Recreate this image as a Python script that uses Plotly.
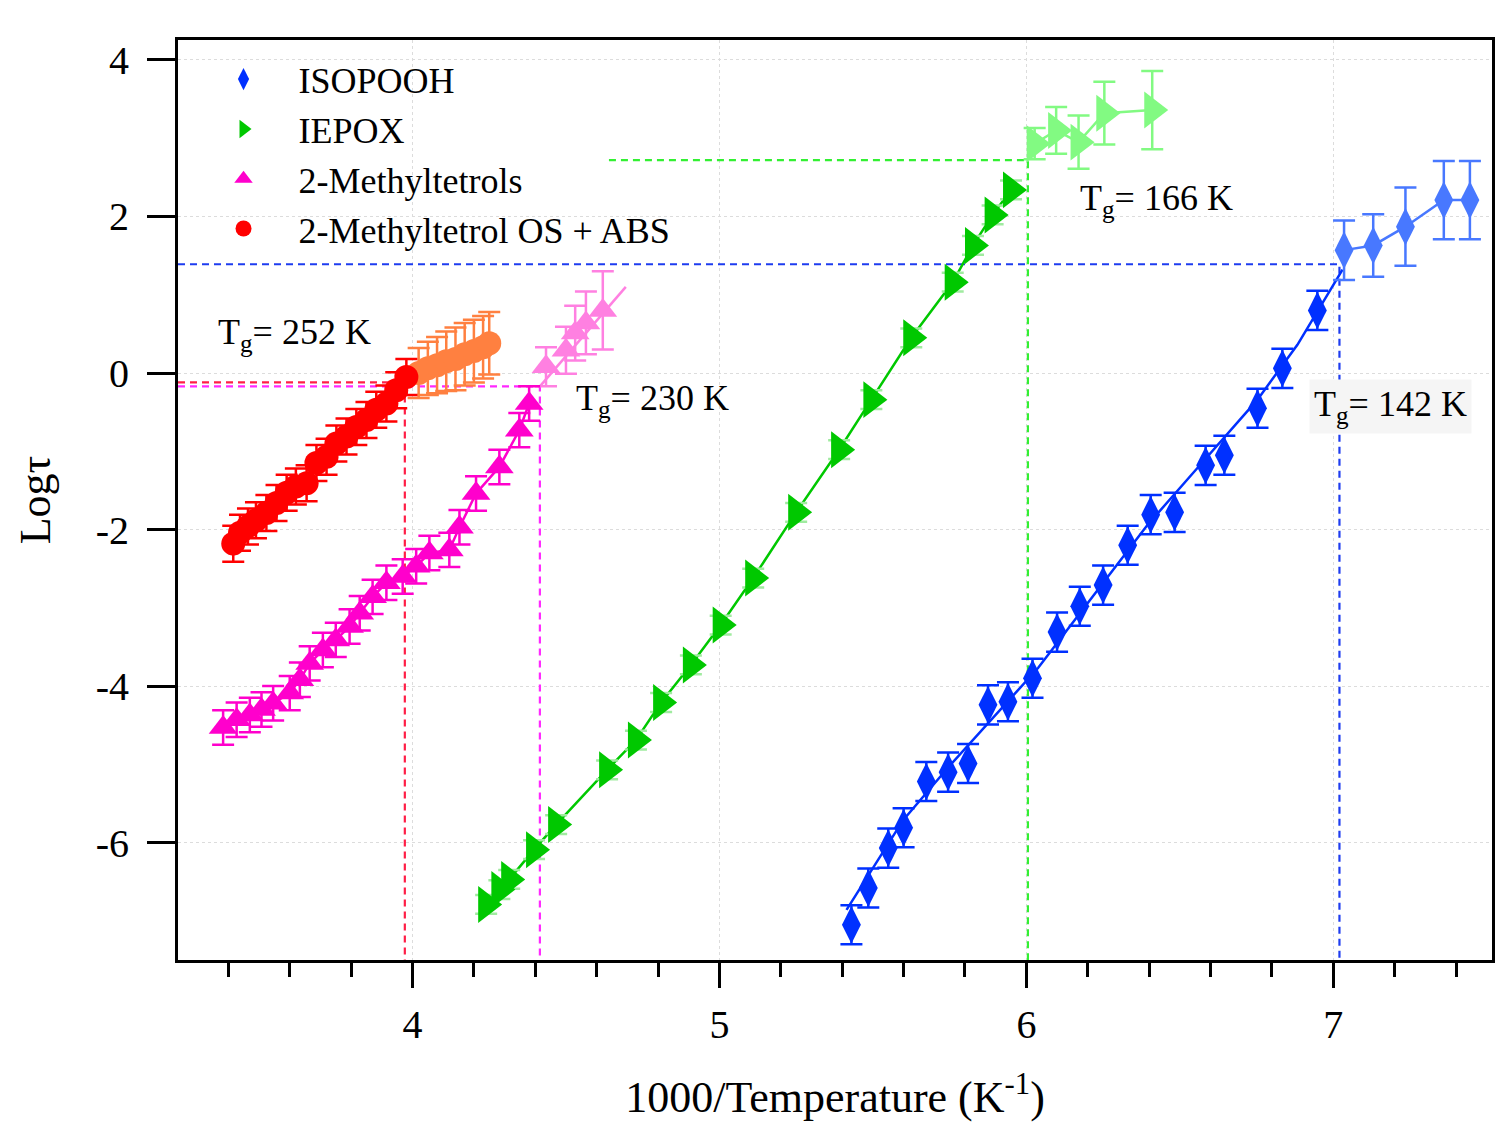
import plotly.graph_objects as go

# ---------------- data ----------------
# ISOPOOH (dark blue, below Tg) and light blue (above Tg)
iso_x = [5.43, 5.485, 5.55, 5.60, 5.674, 5.745, 5.81, 5.875, 5.94, 6.02, 6.10, 6.174,
         6.25, 6.33, 6.405, 6.483, 6.584, 6.645, 6.753, 6.834, 6.948]
iso_y = [-7.05, -6.58, -6.07, -5.81, -5.22, -5.10, -4.99, -4.24, -4.20, -3.90, -3.31, -2.98,
         -2.71, -2.20, -1.81, -1.78, -1.18, -1.05, -0.45, 0.06, 0.80]
iso_err = [0.25] * len(iso_x)
iso_fit_x = [5.414, 5.599, 5.745, 5.908, 6.038, 6.233, 6.395, 6.558, 6.753, 6.883, 7.03]
iso_fit_y = [-6.86, -5.71, -5.04, -4.33, -3.77, -2.77, -1.94, -1.21, -0.34, 0.36, 1.32]
iso_hi_x = [7.035, 7.13, 7.235, 7.36, 7.445]
iso_hi_y = [1.57, 1.63, 1.87, 2.21, 2.21]
iso_hi_err = [0.38, 0.40, 0.50, 0.50, 0.50]

# IEPOX
iep_x = [4.24, 4.283, 4.315, 4.396, 4.468, 4.634, 4.728, 4.81, 4.907, 5.004, 5.11, 5.25,
         5.39, 5.495, 5.625, 5.76, 5.826, 5.89, 5.95]
iep_y = [-6.79, -6.60, -6.47, -6.09, -5.77, -5.07, -4.69, -4.21, -3.73, -3.22, -2.62, -1.78,
         -0.98, -0.34, 0.45, 1.16, 1.63, 2.02, 2.34]
iep_err = [0.12] * len(iep_x)
iep_hi_x = [6.027, 6.097, 6.17, 6.254, 6.41]
iep_hi_y = [2.93, 3.10, 2.95, 3.32, 3.36]
iep_hi_err = [0.2, 0.3, 0.34, 0.4, 0.5]

# 2-Methyltetrols
mt_x = [3.383, 3.427, 3.47, 3.508, 3.546, 3.60, 3.633, 3.665, 3.708, 3.75, 3.795, 3.828,
        3.87, 3.915, 3.968, 4.012, 4.055, 4.12, 4.153, 4.207, 4.283, 4.348, 4.38]
mt_y = [-4.53, -4.43, -4.37, -4.30, -4.22, -4.09, -3.92, -3.71, -3.54, -3.41, -3.24, -3.07,
        -2.86, -2.68, -2.60, -2.47, -2.30, -2.26, -1.97, -1.54, -1.20, -0.73, -0.39]
mt_err = [0.22] * len(mt_x)
mt_hi_x = [4.435, 4.50, 4.53, 4.565, 4.62]
mt_hi_y = [0.08, 0.29, 0.51, 0.64, 0.80]
mt_hi_err = [0.25, 0.3, 0.35, 0.4, 0.5]
mt_fit_x = [4.415, 4.695]
mt_fit_y = [-0.17, 1.10]

# 2-Methyltetrol OS + ABS
os_x = [3.416, 3.438, 3.464, 3.49, 3.524, 3.557, 3.59, 3.62, 3.655, 3.687, 3.72, 3.752,
        3.785, 3.817, 3.85, 3.882, 3.915, 3.947, 3.98]
os_y = [-2.18, -2.04, -1.96, -1.88, -1.79, -1.66, -1.53, -1.45, -1.41, -1.15, -1.07, -0.90,
        -0.81, -0.69, -0.60, -0.47, -0.39, -0.22, -0.05]
os_err = [0.23] * len(os_x)
os_hi_x = [4.02, 4.05, 4.08, 4.11, 4.14, 4.17, 4.20, 4.23, 4.25]
os_hi_y = [0.00, 0.06, 0.10, 0.15, 0.18, 0.24, 0.28, 0.33, 0.38]
os_hi_err = [0.32, 0.34, 0.36, 0.38, 0.4, 0.4, 0.4, 0.4, 0.4]

# Glass transition guide points (x = 1000/Tg, y = log tau)
X_LEFT, Y_BOTTOM = 3.236, -7.5
tg_blue = (7.02, 1.39)
tg_green = (6.005, 2.72)
tg_green_hstart = 4.64
tg_red = (3.975, -0.12)
tg_mag = (4.415, -0.17)

tg_labels = ["T<sub>g</sub>= 252 K", "T<sub>g</sub>= 230 K", "T<sub>g</sub>= 166 K", "T<sub>g</sub>= 142 K"]
tg_label_x = [3.35, 4.517, 6.158, 6.922]
tg_label_y = [0.49, -0.35, 2.21, -0.43]

y_tickvals = [-6, -4, -2, 0, 2, 4]
y_ticktext = ["-6", "-4", "-2", "0", "2", "4"]
x_tickvals = [4, 5, 6, 7]

# ---------------- colours ----------------
BLUE, BLUE_L = "rgb(0,48,255)", "rgb(72,120,255)"
GREEN, GREEN_L = "rgb(0,200,0)", "rgb(130,250,130)"
MAG, MAG_L = "rgb(255,0,204)", "rgb(255,128,225)"
RED, ORANGE = "rgb(255,0,0)", "rgb(255,128,64)"

FONT = "Liberation Serif, Times New Roman, serif"

fig = go.Figure()

def eb(vals, color, w=11, th=2.5):
    return dict(type="data", array=vals, visible=True, color=color, thickness=th, width=w)

def line(xs, ys, color, dash=None, width=2.5):
    fig.add_trace(go.Scatter(x=xs, y=ys, mode="lines", showlegend=False, hoverinfo="skip",
                             line=dict(color=color, width=width, dash=dash)))

# dashed guide lines
DASH = "7px,5px"
line([X_LEFT, tg_blue[0], tg_blue[0]], [tg_blue[1], tg_blue[1], Y_BOTTOM], "rgb(30,60,240)", DASH, 2.2)
line([tg_green_hstart, tg_green[0], tg_green[0]], [tg_green[1], tg_green[1], Y_BOTTOM], "rgb(50,240,50)", DASH, 2.2)
line([X_LEFT, tg_red[0], tg_red[0]], [tg_red[1], tg_red[1], Y_BOTTOM], "rgb(255,30,70)", DASH, 2.2)
line([X_LEFT, tg_mag[0], tg_mag[0]], [tg_mag[1], tg_mag[1], Y_BOTTOM], "rgb(255,40,255)", DASH, 2.2)

# connecting / fit lines
line(iso_fit_x, iso_fit_y, BLUE)
line(iso_hi_x, iso_hi_y, BLUE_L)
line(iep_x, iep_y, GREEN)
line(iep_hi_x, iep_hi_y, GREEN_L)
line(mt_x, mt_y, MAG)
line(mt_fit_x, mt_fit_y, MAG_L)
line(os_x, os_y, RED)
line(os_hi_x, os_hi_y, ORANGE)

def pts(xs, ys, errs, color, ecolor, symbol, size, name=None):
    fig.add_trace(go.Scatter(x=xs, y=ys, mode="markers", name=name, showlegend=name is not None,
                             marker=dict(symbol=symbol, size=size, color=color),
                             error_y=eb(errs, ecolor)))

# light (above Tg) series
pts(iso_hi_x, iso_hi_y, iso_hi_err, BLUE_L, BLUE_L, "diamond-tall", 27)
pts(iep_hi_x, iep_hi_y, iep_hi_err, GREEN_L, GREEN_L, "triangle-right", 32)
pts(mt_hi_x, mt_hi_y, mt_hi_err, MAG_L, MAG_L, "triangle-up", 25)
pts(os_hi_x, os_hi_y, os_hi_err, ORANGE, ORANGE, "circle", 24)

# main series (legend entries)
pts(iso_x, iso_y, iso_err, BLUE, BLUE, "diamond-tall", 27, "ISOPOOH")
pts(iep_x, iep_y, iep_err, GREEN, "rgb(160,235,160)", "triangle-right", 32, "IEPOX")
pts(mt_x, mt_y, mt_err, MAG, MAG, "triangle-up", 25, "2-Methyltetrols")
pts(os_x, os_y, os_err, RED, RED, "circle", 24, "2-Methyltetrol OS + ABS")

# annotations
for i, (t, x, y) in enumerate(zip(tg_labels, tg_label_x, tg_label_y)):
    fig.add_annotation(x=x, y=y, text=t, showarrow=False, xanchor="left", yanchor="middle",
                       font=dict(family=FONT, size=36, color="black"),
                       bgcolor="rgb(245,245,245)" if i == 3 else None, borderpad=4)

axis_common = dict(showline=True, linewidth=3, linecolor="black", mirror=True,
                   ticks="outside", tickwidth=2.5, tickcolor="black",
                   showgrid=True, gridcolor="rgb(220,220,220)", griddash="dot", gridwidth=1,
                   zeroline=False, tickfont=dict(family=FONT, size=40, color="black"))

fig.update_layout(
    width=1498, height=1131,
    margin=dict(l=178, r=3, t=40, b=171),
    paper_bgcolor="white", plot_bgcolor="white",
    font=dict(family=FONT, color="black"),
    xaxis=dict(range=[3.236, 7.517], tickvals=x_tickvals, ticklen=25,
               minor=dict(dtick=0.2, tick0=0, ticks="outside", ticklen=14, tickwidth=2.5,
                          tickcolor="black", showgrid=False),
               ticklabelstandoff=2,
               title=dict(text="1000/Temperature (K<sup>-1</sup>)", font=dict(family=FONT, size=44),
                          standoff=36),
               **axis_common),
    yaxis=dict(range=[-7.5, 4.255], tickvals=y_tickvals, ticktext=y_ticktext, ticklen=28,
               ticklabelstandoff=10,
               title=dict(text="Logτ", font=dict(family=FONT, size=44), standoff=32),
               **axis_common),
    legend=dict(x=0.008, y=0.99, xanchor="left", yanchor="top", bgcolor="rgba(0,0,0,0)",
                font=dict(family=FONT, size=36, color="black"), tracegroupgap=0,
                itemwidth=100, itemsizing="trace"),
    showlegend=True,
)

fig.write_html("out.html")
